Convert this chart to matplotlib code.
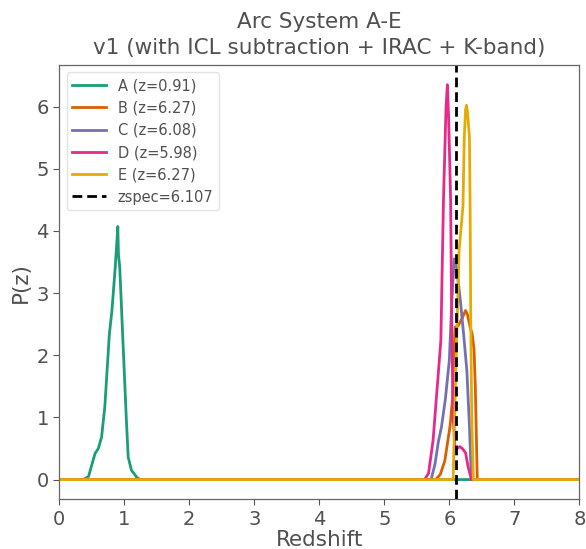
import matplotlib
matplotlib.use("Agg")
import matplotlib.pyplot as plt

plt.rcParams['font.family'] = ['DejaVu Sans']

# ---- data ----
labels = ["A (z=0.91)", "B (z=6.27)", "C (z=6.08)", "D (z=5.98)", "E (z=6.27)"]
colors = ["#1b9e77", "#d95f02", "#7570b3", "#e7298a", "#e6ab02"]

z_A = [0, 0.37, 0.45, 0.55, 0.60, 0.65, 0.70, 0.77, 0.81, 0.86, 0.90, 0.91, 0.93, 0.985, 1.03, 1.06, 1.11, 1.19, 1.24, 8]
P_A = [0, 0, 0.05, 0.42, 0.50, 0.68, 1.17, 2.34, 2.72, 3.41, 4.07, 3.62, 3.41, 2.08, 1.0, 0.36, 0.15, 0.04, 0, 0]

z_B = [0, 5.79, 5.86, 5.93, 6.01, 6.05, 6.07, 6.09, 6.14, 6.20, 6.25, 6.28, 6.32, 6.35, 6.38, 6.40, 6.43, 8]
P_B = [0, 0, 0.08, 0.30, 0.85, 1.30, 2.00, 2.45, 2.48, 2.60, 2.72, 2.65, 2.45, 2.35, 2.10, 1.50, 0, 0]

z_C = [0, 5.72, 5.78, 5.83, 5.88, 5.94, 6.00, 6.04, 6.075, 6.10, 6.14, 6.17, 6.22, 6.27, 6.31, 6.34, 8]
P_C = [0, 0, 0.25, 0.60, 0.85, 1.30, 1.92, 2.90, 3.55, 3.52, 3.15, 2.88, 2.34, 1.75, 0.85, 0, 0]

z_D = [0, 5.62, 5.68, 5.75, 5.80, 5.87, 5.91, 5.95, 5.97, 5.99, 6.02, 6.04, 6.06, 6.09, 6.12, 6.16, 6.20, 6.25, 6.29, 6.34, 8]
P_D = [0, 0, 0.10, 0.63, 1.30, 2.24, 4.50, 6.00, 6.35, 5.80, 4.50, 2.24, 1.00, 0.45, 0.50, 0.53, 0.50, 0.43, 0.20, 0, 0]

z_E = [0, 6.06, 6.07, 6.10, 6.15, 6.21, 6.23, 6.25, 6.265, 6.28, 6.31, 6.32, 6.33, 6.345, 6.37, 8]
P_E = [0, 0, 0.50, 1.75, 3.68, 4.40, 5.50, 5.95, 6.02, 5.90, 5.50, 4.40, 2.50, 1.00, 0, 0]

zspec = 6.107
zspec_label = "zspec=6.107"

title = "Arc System A-E\nv1 (with ICL subtraction + IRAC + K-band)"
xlabel = "Redshift"
ylabel = "P(z)"

# ---- plot ----
txt = "#505050"
fig = plt.figure(figsize=(5.86, 5.49), dpi=100)
ax = fig.add_axes([0.1012, 0.0905, 0.9886 - 0.1012, 0.8816 - 0.0905])

for z, p, lab, c in zip([z_A, z_B, z_C, z_D, z_E], [P_A, P_B, P_C, P_D, P_E], labels, colors):
    ax.plot(z, p, color=c, lw=2.0, label=lab)

ax.axvline(zspec, color="black", lw=2.0, ls=(0, (3.5, 1.8)), label=zspec_label)

ax.set_xlim(0, 8)
ax.set_title(title, fontsize=15.5, color=txt, pad=8, linespacing=1.35)
ax.set_xlabel(xlabel, fontsize=15.5, color=txt, labelpad=1)
ax.set_ylabel(ylabel, fontsize=15.5, color=txt, labelpad=4)
ax.tick_params(labelsize=14, colors="#555555", labelcolor=txt, length=4)
for s in ax.spines.values():
    s.set_color("#666666")
    s.set_linewidth(0.9)

leg = ax.legend(loc="upper left", fontsize=10.5, frameon=True, handlelength=2.3,
                borderaxespad=0.5, labelspacing=0.5)
for t in leg.get_texts():
    t.set_color(txt)
leg.get_frame().set_edgecolor("#dddddd")

fig.savefig("out.png", dpi=100)
